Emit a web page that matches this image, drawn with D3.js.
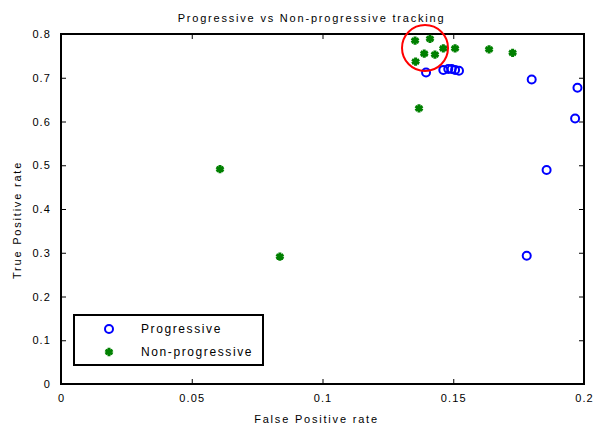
<!DOCTYPE html>
<html><head><meta charset="utf-8">
<script src="https://cdn.jsdelivr.net/npm/d3@7"></script>
<style>
html,body{margin:0;padding:0;background:#fff;}
svg text{font-family:"Liberation Sans",Arial,sans-serif;fill:#000;}
</style></head>
<body><svg id="c" width="595" height="426"></svg>
<script>
// Data
const progX = [0.1396, 0.1462, 0.1481, 0.1494, 0.1507, 0.1522, 0.1800, 0.1975, 0.1966, 0.1857, 0.1781];
const progY = [0.712, 0.718, 0.720, 0.720, 0.718, 0.716, 0.696, 0.677, 0.607, 0.489, 0.293];
const nonX = [0.1354, 0.1411, 0.1389, 0.1430, 0.1356, 0.1462, 0.1507, 0.1637, 0.1727, 0.1369, 0.0608, 0.0837];
const nonY = [0.785, 0.789, 0.755, 0.753, 0.737, 0.767, 0.767, 0.765, 0.757, 0.630, 0.491, 0.291];
const highlight = [0.1392, 0.768];
const xTicks = [0, 0.05, 0.1, 0.15, 0.2];
const xTickLabels = ["0", "0.05", "0.1", "0.15", "0.2"];
const yTicks = [0, 0.1, 0.2, 0.3, 0.4, 0.5, 0.6, 0.7, 0.8];
const yTickLabels = ["0", "0.1", "0.2", "0.3", "0.4", "0.5", "0.6", "0.7", "0.8"];
const seriesNames = ["Progressive", "Non-progressive"];
const titleText = "Progressive vs Non-progressive tracking";
const xLabel = "False Positive rate";
const yLabel = "True Positive rate";

const L = 61, R = 584, T = 34, B = 384;
const svg = d3.select("#c");
const x = d3.scaleLinear().domain([0, 0.2]).range([L, R]);
const y = d3.scaleLinear().domain([0, 0.8]).range([B, T]);
const fs = 11, ls = "1.1px", lsLab = "1.8px";

// ticks (inward) on all four sides
const tk = 5;
const g = svg.append("g");
g.append("g").attr("transform", `translate(0,${B})`)
  .call(d3.axisBottom(x).tickValues(xTicks).tickSizeInner(-tk).tickSizeOuter(0).tickFormat((d,i)=>xTickLabels[i]).tickPadding(10))
  .call(a=>{a.select(".domain").remove(); a.selectAll("line").attr("stroke","#000").attr("stroke-width",1);
    a.selectAll("text").attr("font-size",fs).attr("letter-spacing",ls).attr("font-family","Liberation Sans, Arial, sans-serif");});
g.append("g").attr("transform", `translate(0,${T})`)
  .call(d3.axisTop(x).tickValues(xTicks).tickSizeInner(-tk).tickSizeOuter(0).tickFormat(""))
  .call(a=>{a.select(".domain").remove(); a.selectAll("line").attr("stroke","#000");});
g.append("g").attr("transform", `translate(${L},0)`)
  .call(d3.axisLeft(y).tickValues(yTicks).tickSizeInner(-tk).tickSizeOuter(0).tickFormat((d,i)=>yTickLabels[i]).tickPadding(10))
  .call(a=>{a.select(".domain").remove(); a.selectAll("line").attr("stroke","#000");
    a.selectAll("text").attr("font-size",fs).attr("letter-spacing",ls).attr("font-family","Liberation Sans, Arial, sans-serif");});
g.append("g").attr("transform", `translate(${R},0)`)
  .call(d3.axisRight(y).tickValues(yTicks).tickSizeInner(-tk).tickSizeOuter(0).tickFormat(""))
  .call(a=>{a.select(".domain").remove(); a.selectAll("line").attr("stroke","#000");});

// box
svg.append("rect").attr("x",L).attr("y",T).attr("width",R-L).attr("height",B-T)
  .attr("fill","none").attr("stroke","#000").attr("stroke-width",2);

// title and labels
svg.append("text").attr("x",(L+R)/2 - 11).attr("y",22).attr("text-anchor","middle")
  .attr("font-size",fs).attr("letter-spacing",lsLab).text(titleText);
svg.append("text").attr("x",(L+R)/2 - 6).attr("y",423).attr("text-anchor","middle")
  .attr("font-size",fs).attr("letter-spacing",lsLab).text(xLabel);
svg.append("text").attr("transform",`translate(21,${(T+B)/2 + 11}) rotate(-90)`).attr("text-anchor","middle")
  .attr("font-size",fs).attr("letter-spacing",lsLab).text(yLabel);

// markers
const star = d3.symbol().type(d3.symbolAsterisk).size(48);
function drawStar(sel){ sel.attr("d", star()).attr("fill","none").attr("stroke","#008000").attr("stroke-width",3); }
function drawCirc(sel){ sel.attr("r",4).attr("fill","none").attr("stroke","#0000ff").attr("stroke-width",2); }

svg.append("g").selectAll("circle").data(progX.map((v,i)=>[v,progY[i]])).join("circle")
  .attr("cx",d=>x(d[0])).attr("cy",d=>y(d[1])).call(drawCirc);
svg.append("g").selectAll("path").data(nonX.map((v,i)=>[v,nonY[i]])).join("path")
  .attr("transform",d=>`translate(${x(d[0])},${y(d[1])})`).call(drawStar);

// highlight circle
svg.append("circle").attr("cx",x(highlight[0])).attr("cy",y(highlight[1])).attr("r",23)
  .attr("fill","none").attr("stroke","#ff0000").attr("stroke-width",2);

// legend
const lg = svg.append("g");
lg.append("rect").attr("x",74).attr("y",315).attr("width",189).attr("height",50)
  .attr("fill","#fff").attr("stroke","#000").attr("stroke-width",2);
lg.append("circle").attr("cx",109).attr("cy",329).call(drawCirc);
lg.append("path").attr("transform","translate(109,352)").call(drawStar);
seriesNames.forEach((n,i)=>{
  lg.append("text").attr("x",141).attr("y",333+i*23).attr("font-size",fs+1).attr("letter-spacing","1.6px").text(n);
});
</script></body></html>
